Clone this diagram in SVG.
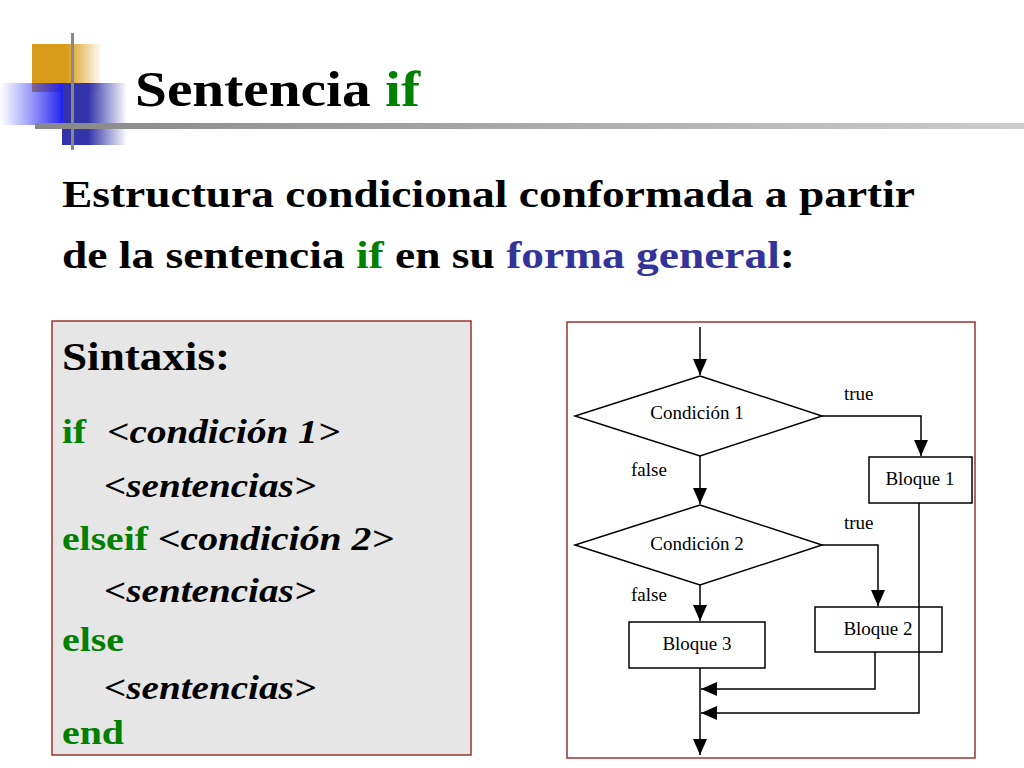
<svg xmlns="http://www.w3.org/2000/svg" width="1024" height="768" viewBox="0 0 1024 768">
<defs>
<style>
.t{font-family:"Liberation Serif","Times New Roman","DejaVu Serif",serif;font-weight:bold;fill:#000}
.g{fill:#008000}.b{fill:#333399}
.f{font-family:"Liberation Serif","Times New Roman","DejaVu Serif",serif;font-size:19px;fill:#000}
.s{fill:#fff;stroke:#000;stroke-width:1.5}
.c{fill:none;stroke:#000;stroke-width:1.5}
</style>
<marker id="ah" viewBox="0 0 16 14" refX="16" refY="7" markerWidth="16" markerHeight="14" markerUnits="userSpaceOnUse" orient="auto"><path d="M0,0L16,7L0,14z" fill="#000"/></marker>
<linearGradient id="og" x1="0" x2="1"><stop offset="0.5" stop-color="#d99c1a"/><stop offset="1" stop-color="#d99c1a" stop-opacity="0"/></linearGradient>
<linearGradient id="bg1" x1="0" x2="1"><stop offset="0" stop-color="#4040ff" stop-opacity="0"/><stop offset="1" stop-color="#2020ee"/></linearGradient>
<linearGradient id="bg2" x1="0" x2="1"><stop offset="0.4" stop-color="#3333aa"/><stop offset="1" stop-color="#3333aa" stop-opacity="0"/></linearGradient>
<linearGradient id="ln" x1="0" x2="1"><stop offset="0" stop-color="#888"/><stop offset="1" stop-color="#ccc"/></linearGradient>
</defs>
<rect width="1024" height="768" fill="#fff"/>
<g id="logo">
<rect x="32" y="44" width="70" height="48" fill="url(#og)"/>
<rect x="62" y="83" width="65" height="62" fill="url(#bg2)"/>
<rect x="0" y="83" width="63" height="42" fill="url(#bg1)"/>
<rect x="35" y="123" width="990" height="6" fill="url(#ln)"/>
<rect x="71" y="33" width="3" height="117" fill="#888"/>
</g>
<text class="t" x="135" y="106" font-size="50" textLength="285" lengthAdjust="spacingAndGlyphs">Sentencia <tspan class="g">if</tspan></text>
<text class="t" x="62" y="207" font-size="38" textLength="853" lengthAdjust="spacingAndGlyphs">Estructura condicional conformada a partir</text>
<text class="t" x="62" y="268" font-size="38" textLength="733" lengthAdjust="spacingAndGlyphs">de la sentencia <tspan class="g">if</tspan> en su <tspan class="b">forma general</tspan>:</text>
<g id="syntax">
<rect x="52" y="321" width="419" height="434" fill="#e6e6e6" stroke="#993333" stroke-width="1.5"/>
<text class="t" x="62" y="370" font-size="40" textLength="168" lengthAdjust="spacingAndGlyphs">Sintaxis:</text>
<text class="t g" x="62" y="443" font-size="34" textLength="278" lengthAdjust="spacingAndGlyphs">if <tspan fill="#000" font-style="italic" dx="10">&lt;condición 1&gt;</tspan></text>
<text class="t" x="104" y="497" font-size="34" font-style="italic" textLength="212" lengthAdjust="spacingAndGlyphs">&lt;sentencias&gt;</text>
<text class="t g" x="62" y="550" font-size="34" textLength="332" lengthAdjust="spacingAndGlyphs">elseif <tspan fill="#000" font-style="italic">&lt;condición 2&gt;</tspan></text>
<text class="t" x="104" y="602" font-size="34" font-style="italic" textLength="212" lengthAdjust="spacingAndGlyphs">&lt;sentencias&gt;</text>
<text class="t g" x="62" y="651" font-size="34" textLength="62" lengthAdjust="spacingAndGlyphs">else</text>
<text class="t" x="104" y="699" font-size="34" font-style="italic" textLength="212" lengthAdjust="spacingAndGlyphs">&lt;sentencias&gt;</text>
<text class="t g" x="62" y="744" font-size="34" textLength="62" lengthAdjust="spacingAndGlyphs">end</text>
</g>
<rect x="567" y="322" width="408" height="436" fill="#fff" stroke="#993333" stroke-width="1.5"/>
<g id="cond1"><path class="s" d="M700,376L822,416L700,456L575,416z"/><text class="f" x="697" y="419" text-anchor="middle">Condición 1</text></g>
<g id="cond2"><path class="s" d="M700,505L822,545L700,585L575,545z"/><text class="f" x="697" y="550" text-anchor="middle">Condición 2</text></g>
<g id="b1"><rect class="s" x="869" y="457" width="103" height="46"/><text class="f" x="920" y="485" text-anchor="middle">Bloque 1</text></g>
<g id="b2"><rect class="s" x="815" y="607" width="127" height="45"/><text class="f" x="878" y="635" text-anchor="middle">Bloque 2</text></g>
<g id="b3"><rect class="s" x="629" y="622" width="136" height="46"/><text class="f" x="697" y="650" text-anchor="middle">Bloque 3</text></g>
<g id="connectors">
<path class="c" d="M700,327V375" marker-end="url(#ah)"/>
<path class="c" d="M822,416H921V456" marker-end="url(#ah)"/>
<path class="c" d="M700,456V504" marker-end="url(#ah)"/>
<path class="c" d="M822,545H878V606" marker-end="url(#ah)"/>
<path class="c" d="M700,585V621" marker-end="url(#ah)"/>
<path class="c" d="M875,652V689H701" marker-end="url(#ah)"/>
<path class="c" d="M919,503V713H701" marker-end="url(#ah)"/>
<path class="c" d="M700,668V755" marker-end="url(#ah)"/>
<text class="f" x="844" y="400">true</text>
<text class="f" x="844" y="529">true</text>
<text class="f" x="631" y="476">false</text>
<text class="f" x="631" y="601">false</text>
</g>
</svg>
